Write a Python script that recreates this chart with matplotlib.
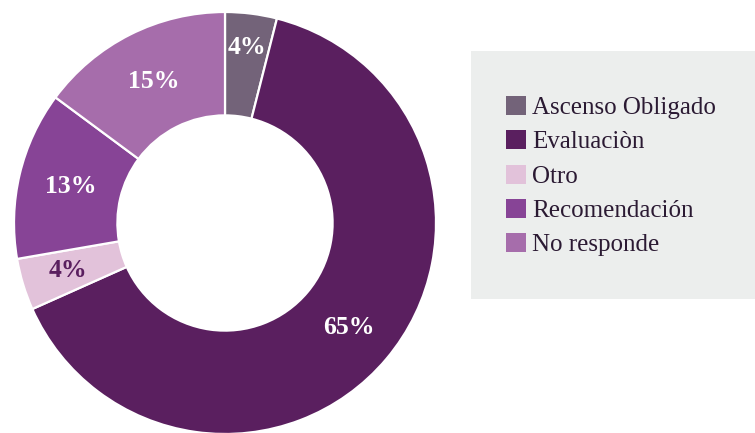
import numpy as np
import matplotlib.pyplot as plt
from matplotlib.patches import Rectangle, Patch

categorias = ['Ascenso Obligado', 'Evaluaciòn', 'Otro', 'Recomendación', 'No responde']
valores = [4, 65, 4, 13, 15]
colores = ['#736379', '#5a1f5f', '#e2c2da', '#874496', '#a66dab']
color_texto = ['white', 'white', '#5a1f5f', 'white', 'white']
radio_texto = [0.84, 0.77, 0.78, 0.75, 0.75]

plt.rcParams['font.family'] = ['Liberation Serif', 'DejaVu Serif']

fig = plt.figure(figsize=(7.55, 4.33), dpi=100)

# caja gris de la leyenda
fig.patches.append(Rectangle((471 / 755, 1 - 299 / 433), 284 / 755, 248 / 433,
                             transform=fig.transFigure, facecolor='#eceeed',
                             edgecolor='none', zorder=0))

ax = fig.add_axes([(225 - 211) / 755, (433 - 223 - 211) / 433, 422 / 755, 422 / 433])
cunas, _ = ax.pie(valores, colors=colores, startangle=90, counterclock=False,
                  wedgeprops=dict(width=0.49, edgecolor='white', linewidth=1.6))
ax.set_aspect('equal')
ax.set_xlim(-1, 1)
ax.set_ylim(-1, 1)

for cuna, v, c, r in zip(cunas, valores, color_texto, radio_texto):
    ang = np.deg2rad((cuna.theta1 + cuna.theta2) / 2)
    ax.text(r * np.cos(ang), r * np.sin(ang), f'{v}%', ha='center', va='center',
            fontsize=18.5, fontweight='bold', color=c)

handles = [Patch(facecolor=c, edgecolor='none') for c in colores]
fig.legend(handles, categorias, loc='upper left', bbox_to_anchor=(506 / 755, 1 - 96 / 433),
           frameon=False, fontsize=18, handlelength=0.8, handleheight=0.8,
           handletextpad=0.25, labelspacing=0.44, borderpad=0, borderaxespad=0,
           labelcolor='#2b1a33')

fig.savefig('out.png', dpi=100)
